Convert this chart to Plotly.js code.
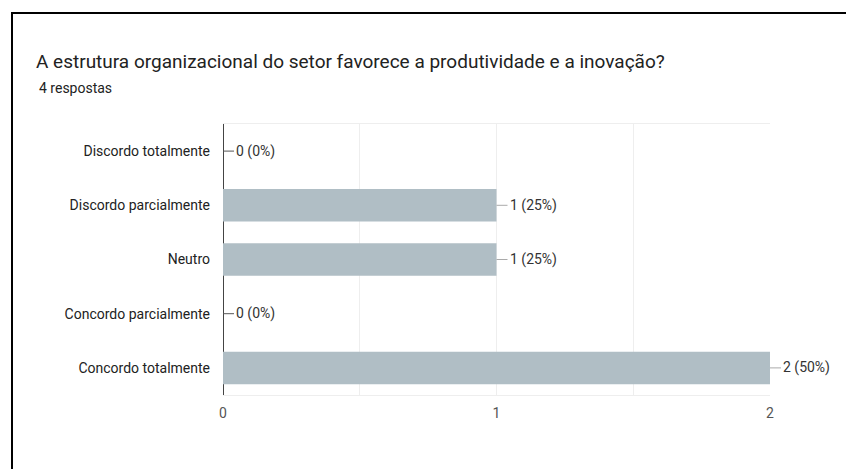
<!DOCTYPE html>
<html>
<head>
<meta charset="utf-8">
<script src="https://cdn.plot.ly/plotly-3.0.1.min.js"></script>
<style>
  html, body { margin:0; padding:0; background:#fff; }
  #wrap { position:relative; width:846px; height:469px; overflow:hidden; }
  #frame { position:absolute; left:11px; top:12px; width:900px; height:500px; border-left:2px solid #000; border-top:2px solid #000; pointer-events:none; }
  #chart { position:absolute; left:0; top:0; width:846px; height:469px; }
</style>
</head>
<body>
<div id="wrap">
  <div id="chart"></div>
  <div id="frame"></div>
</div>
<script>
const categories = ["Discordo totalmente", "Discordo parcialmente", "Neutro", "Concordo parcialmente", "Concordo totalmente"];
const counts = [0, 1, 1, 0, 2];
const totalResponses = 4;
const tickValues = [0, 0.5, 1, 1.5, 2];
const tickLabels = ["0", "", "1", "", "2"];
const titleText = "A estrutura organizacional do setor favorece a produtividade e a inovação?";
const subtitleText = "4 respostas";

const labels = counts.map(v => v + " (" + Math.round(v / totalResponses * 100) + "%)");
const FONT = "Roboto, Arial, sans-serif";

const trace = {
  type: "bar",
  orientation: "h",
  x: counts,
  y: categories,
  marker: { color: "#b0bec5" },
  hoverinfo: "skip"
};

const annotations = categories.map((c, i) => ({
  x: counts[i], y: c, xref: "x", yref: "y",
  text: labels[i],
  showarrow: true, arrowhead: 0, arrowwidth: 1, arrowcolor: counts[i] === 0 ? "#555" : "#aaa",
  ax: 11, ay: 0, xanchor: "left", standoff: 0,
  font: { family: FONT, size: 14, color: "#333" }
}));
annotations.push({
  xref: "paper", yref: "paper", x: (37 - 223) / 547, y: (395 - 88) / 271,
  xanchor: "left", yanchor: "middle", showarrow: false,
  text: subtitleText,
  font: { family: FONT, size: 14, color: "#222" }
});

const layout = {
  width: 846, height: 469,
  margin: { l: 223, r: 76, t: 124, b: 74 },
  paper_bgcolor: "#fff", plot_bgcolor: "#fff",
  bargap: 0.4,
  showlegend: false,
  title: {
    text: titleText,
    xref: "container", yref: "container",
    x: 36 / 846, xanchor: "left",
    y: 1 - 61 / 469, yanchor: "middle",
    font: { family: FONT, size: 19, color: "#222" }
  },
  xaxis: {
    range: [0, 2],
    tickvals: tickValues, ticktext: tickLabels,
    showgrid: true, gridcolor: "#eeeeee", gridwidth: 1,
    zeroline: true, zerolinecolor: "#444", zerolinewidth: 1,
    showline: true, mirror: true, linecolor: "#eeeeee", linewidth: 1,
    ticks: "", ticklabelstandoff: 5,
    tickfont: { family: FONT, size: 14, color: "#555" },
    fixedrange: true
  },
  yaxis: {
    autorange: "reversed",
    showgrid: false, zeroline: false, showline: false,
    ticks: "", ticklabelstandoff: 12,
    tickfont: { family: FONT, size: 14, color: "#222" },
    fixedrange: true
  },
  annotations: annotations
};

Plotly.newPlot("chart", [trace], layout, { displayModeBar: false, staticPlot: true });
</script>
</body>
</html>
